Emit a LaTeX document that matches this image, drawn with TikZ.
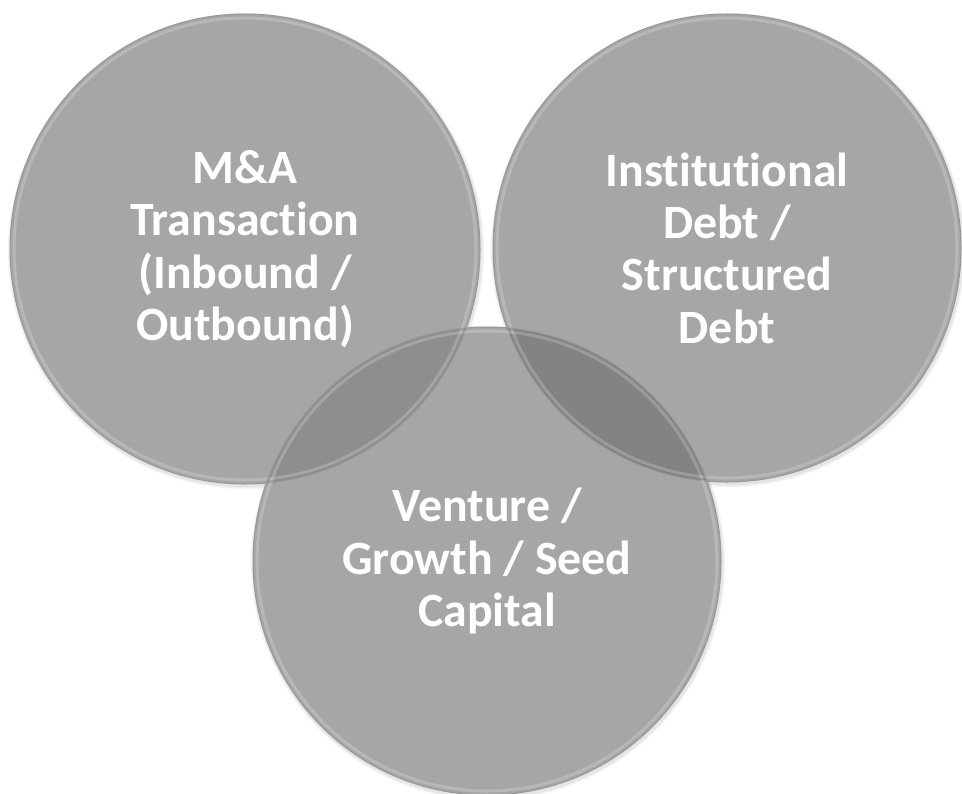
\documentclass[tikz,border=0pt]{standalone}
\usepackage{fontspec}
\setmainfont{Carlito}[Ligatures=NoCommon,RawFeature={-liga;-clig;-dlig}]
\newcommand{\nl}{\kern0pt }
\definecolor{basegray}{HTML}{A6A6A6}
\definecolor{overgray}{HTML}{8E8E8E}
\definecolor{triplegray}{HTML}{A8A8A8}
\definecolor{rimgray}{HTML}{989898}
\begin{document}
\begin{tikzpicture}[x=1bp,y=-1bp,
  lbl/.style={text=white,font=\fontsize{48}{52.5}\selectfont\bfseries,align=center},
  rim/.style={draw=rimgray,line width=1bp},
  glow/.style={draw=white,line width=3bp,opacity=0.2}]
\useasboundingbox (0,0) rectangle (962,794);
\fill[white] (0,0) rectangle (962,794);
\coordinate (cA) at (245,249);
\coordinate (cB) at (727,248);
\coordinate (cC) at (487,561);
\def\rA{235bp}
\def\rB{234bp}
\def\rC{234bp}
% soft shadows
\foreach \c/\r in {cA/\rA,cB/\rB,cC/\rC}{
  \fill[black,opacity=0.05] ([xshift=1bp,yshift=-2bp]\c) circle (\r+3bp);
  \fill[black,opacity=0.05] ([xshift=1bp,yshift=-2bp]\c) circle (\r+1.5bp);
}
% base fills
\fill[basegray] (cA) circle (\rA);
\fill[basegray] (cB) circle (\rB);
\fill[basegray] (cC) circle (\rC);
% pair overlaps
\begin{scope}
  \clip (cA) circle (\rA);
  \fill[overgray] (cC) circle (\rC);
\end{scope}
\begin{scope}
  \clip (cB) circle (\rB);
  \fill[overgray!92!black] (cC) circle (\rC);
\end{scope}
\begin{scope}
  \clip (cA) circle (\rA);
  \fill[overgray] (cB) circle (\rB);
\end{scope}
% triple overlap
\begin{scope}
  \clip (cA) circle (\rA);
  \clip (cB) circle (\rB);
  \fill[triplegray] (cC) circle (\rC);
\end{scope}
% rims and inner glow
\foreach \c/\r in {cA/\rA,cB/\rB,cC/\rC}{
  \draw[glow] (\c) circle (\r-4bp);
  \draw[rim] (\c) circle (\r);
}
% labels
\node[lbl] (tA) at (cA) {M\&A\\Transact\nl ion\\(Inbound /\\Outbound)};
\node[lbl] (tB) at (cB) {Inst\nl itut\nl ional\\Debt /\\Structured\\Debt};
\node[lbl] (tC) at (cC) {Venture /\\Growth / Seed\\Capital};
\end{tikzpicture}
\end{document}
